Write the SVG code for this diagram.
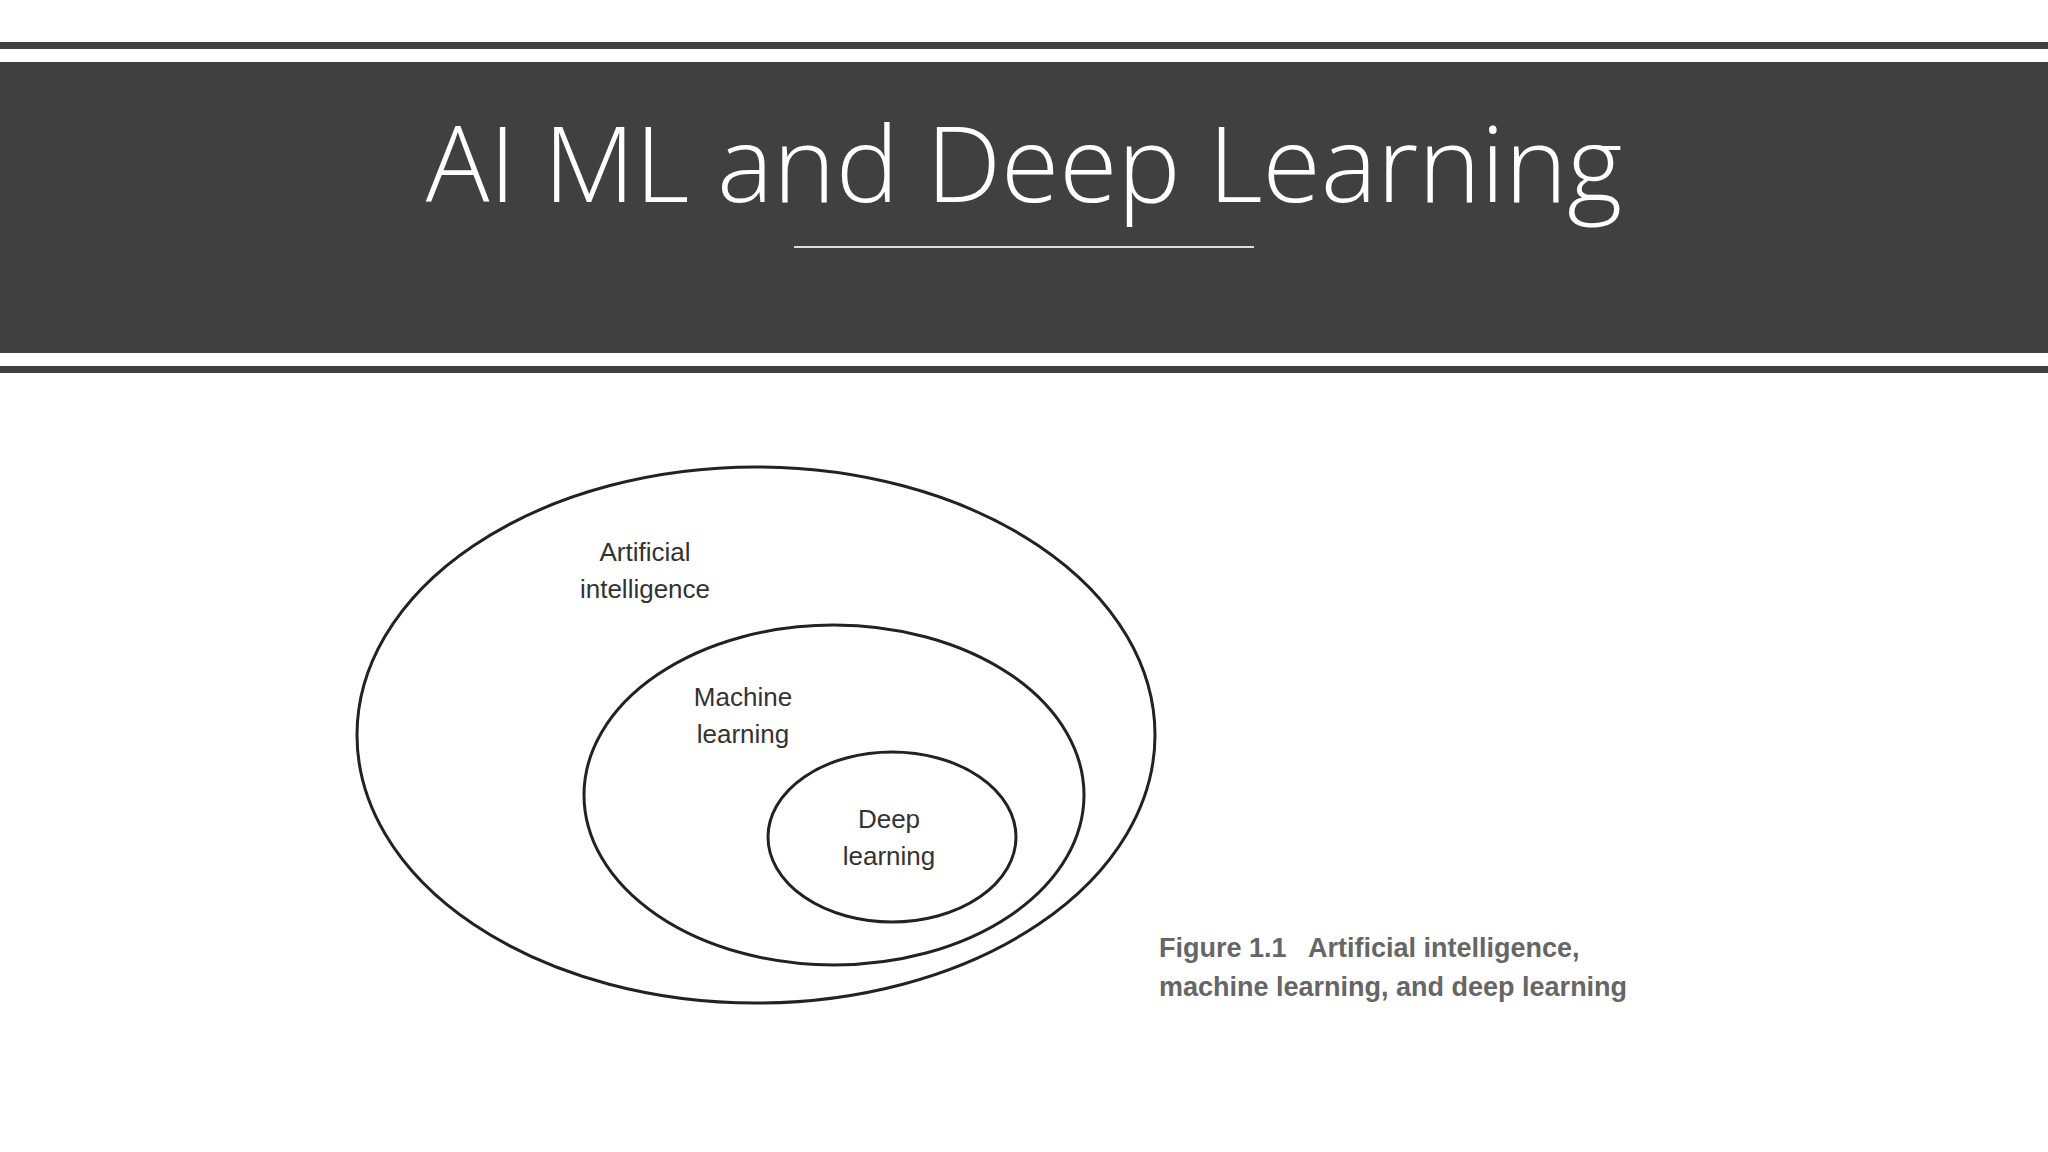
<svg xmlns="http://www.w3.org/2000/svg" width="2048" height="1152" viewBox="0 0 2048 1152">
<style>
.e{fill:none;stroke:#222;stroke-width:3}
.l{font-family:"Liberation Sans",Arial,sans-serif;font-size:26px;fill:#333;text-anchor:middle}
.c{font-family:"Liberation Sans",Arial,sans-serif;font-size:27px;font-weight:bold;fill:#666}
</style>
<rect width="2048" height="1152" fill="#fff"/>
<g id="header">
<rect x="0" y="42" width="2048" height="7" fill="#404040"/>
<rect x="0" y="62" width="2048" height="291" fill="#404040"/>
<rect x="0" y="366" width="2048" height="7" fill="#404040"/>
<text x="1024" y="202" font-family="'Open Sans',sans-serif" font-weight="300" font-size="106" fill="#fff" text-anchor="middle">AI ML and Deep Learning</text>
<line x1="794" y1="247" x2="1254" y2="247" stroke="#ddd" stroke-width="2"/>
</g>
<g id="ai"><ellipse class="e" cx="756" cy="735" rx="399" ry="268"/>
<text class="l" x="645" y="561">Artificial</text><text class="l" x="645" y="598">intelligence</text></g>
<g id="ml"><ellipse class="e" cx="834" cy="795" rx="250" ry="170"/>
<text class="l" x="743" y="706">Machine</text><text class="l" x="743" y="743">learning</text></g>
<g id="dl"><ellipse class="e" cx="892" cy="837" rx="124" ry="85"/>
<text class="l" x="889" y="828">Deep</text><text class="l" x="889" y="865">learning</text></g>
<g id="connectors"></g>
<g id="caption">
<text class="c" x="1159" y="957" xml:space="preserve">Figure 1.1   Artificial intelligence,</text>
<text class="c" x="1159" y="996">machine learning, and deep learning</text>
</g>
</svg>
